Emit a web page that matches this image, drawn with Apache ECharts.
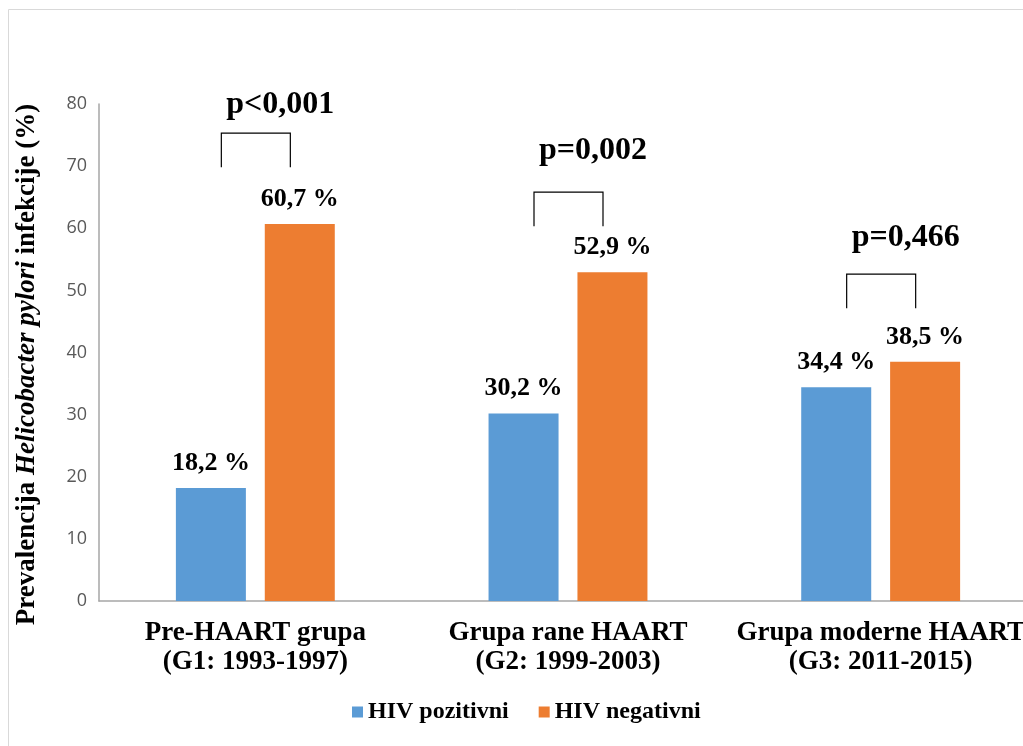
<!DOCTYPE html>
<html>
<head>
<meta charset="utf-8">
<script src="https://cdn.jsdelivr.net/npm/echarts@6/dist/echarts.min.js"></script>
<style>
  html, body { margin: 0; padding: 0; background: #fff; }
  #chart { width: 1023px; height: 746px; }
</style>
</head>
<body>
<div id="chart"></div>
<script>
// data
const groups = ['Pre-HAART grupa\n(G1: 1993-1997)', 'Grupa rane HAART\n(G2: 1999-2003)', 'Grupa moderne HAART\n(G3: 2011-2015)'];
const hivPos = [18.2, 30.2, 34.4];
const hivNeg = [60.7, 52.9, 38.5];
const pLabels = ['p<0,001', 'p=0,002', 'p=0,466'];
const pBracketTop = [75.3, 65.8, 52.6];
const pTextLevel = [79.9, 72.4, 58.4];
const yTicks = [0, 80, 10]; // min, max, step

const serif = '"Liberation Serif", "Times New Roman", serif';
const chart = echarts.init(document.getElementById('chart'));

const pctLabel = {
  show: true,
  position: 'top',
  distance: 12,
  color: '#000',
  fontFamily: serif,
  fontWeight: 'bold',
  fontSize: 26,
  formatter: function (p) { return p.value.toFixed(1).replace('.', ',') + ' %'; }
};

chart.setOption({
  animation: false,
  graphic: [{
    type: 'rect',
    shape: { x: 8.5, y: 9.5, width: 1100, height: 800 },
    style: { fill: 'none', stroke: '#d9d9d9', lineWidth: 1 },
    silent: true
  }],
  grid: { left: 99, top: 104, width: 938, height: 497, outerBoundsMode: 'none', containLabel: false },
  legend: {
    data: ['HIV pozitivni', 'HIV negativni'],
    bottom: 17,
    left: 347,
    icon: 'rect',
    itemWidth: 11,
    itemHeight: 11,
    itemGap: 30,
    textStyle: { color: '#000', fontFamily: serif, fontWeight: 'bold', fontSize: 24 }
  },
  xAxis: {
    type: 'category',
    data: groups,
    axisTick: { show: false },
    axisLine: { lineStyle: { color: '#a6a6a6', width: 1.5 } },
    axisLabel: {
      color: '#000', fontFamily: serif, fontWeight: 'bold', fontSize: 27,
      lineHeight: 29, margin: 18, interval: 0
    }
  },
  yAxis: {
    type: 'value',
    min: yTicks[0], max: yTicks[1], interval: yTicks[2],
    splitLine: { show: false },
    axisTick: { show: false },
    axisLine: { show: true, lineStyle: { color: '#a6a6a6', width: 1.5 } },
    axisLabel: { color: '#595959', fontFamily: '"Open Sans", "Liberation Sans", sans-serif', fontSize: 18, margin: 12 },
    name: '{b|Prevalencija }{i|Helicobacter pylori}{b| infekcije (%)}',
    nameLocation: 'middle',
    nameRotate: 90,
    nameGap: 58,
    nameTextStyle: {
      padding: [0, 24, 0, 0],
      rich: {
        b: { fontFamily: serif, fontWeight: 'bold', fontSize: 27, color: '#000' },
        i: { fontFamily: serif, fontWeight: 'bold', fontStyle: 'italic', fontSize: 27, color: '#000' }
      }
    }
  },
  series: [
    {
      name: 'HIV pozitivni', type: 'bar', data: hivPos,
      barWidth: 70, barGap: '27%',
      itemStyle: { color: '#5b9bd5' },
      label: pctLabel
    },
    {
      name: 'HIV negativni', type: 'bar', data: hivNeg,
      barWidth: 70,
      itemStyle: { color: '#ed7d31' },
      label: pctLabel
    },
    {
      name: 'p', type: 'custom', clip: false, silent: true,
      data: pLabels.map(function (_, i) { return [i, pBracketTop[i], pTextLevel[i]]; }),
      encode: { x: 0, y: 1 },
      renderItem: function (params, api) {
        const i = params.dataIndex;
        const top = api.coord([api.value(0), api.value(1)]);
        const txt = api.coord([api.value(0), api.value(2)]);
        const x0 = top[0] - 34, x1 = top[0] + 35, y0 = top[1], y1 = top[1] + 34;
        return {
          type: 'group',
          children: [
            {
              type: 'polyline',
              shape: { points: [[x0, y1], [x0, y0], [x1, y0], [x1, y1]] },
              style: { stroke: '#000', lineWidth: 1.2, fill: 'none' }
            },
            {
              type: 'text',
              x: txt[0] + 25, y: txt[1],
              style: {
                text: pLabels[i], fill: '#000', align: 'center', verticalAlign: 'middle',
                font: 'bold 32px ' + serif
              }
            }
          ]
        };
      }
    }
  ]
});
</script>
</body>
</html>
